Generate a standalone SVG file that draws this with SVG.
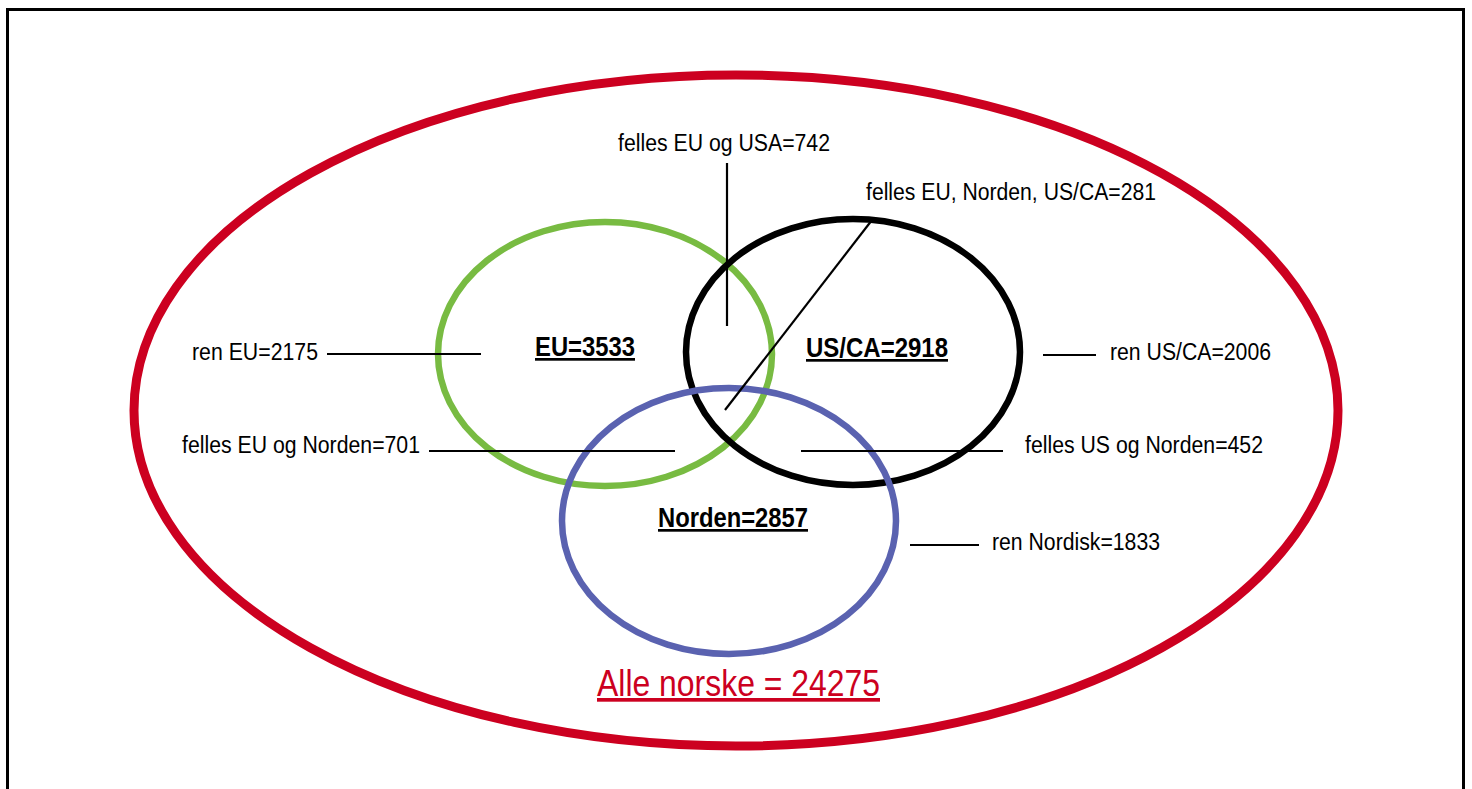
<svg xmlns="http://www.w3.org/2000/svg" width="1472" height="789" viewBox="0 0 1472 789">
<style>
.lbl{font-family:"Liberation Sans",Arial,sans-serif;font-size:23px;fill:#000}
.bold{font-family:"Liberation Sans",Arial,sans-serif;font-size:27px;font-weight:bold;fill:#000;text-decoration:underline}
.title{font-family:"Liberation Sans",Arial,sans-serif;font-size:37px;fill:#cc0020;text-decoration:underline}
.ring{fill:none}
.conn line{stroke:#000;stroke-width:2.2}
</style>
<rect x="7.5" y="9.5" width="1456" height="800" fill="#fff" stroke="#000" stroke-width="3"/>
<g id="alle">
<ellipse class="ring" cx="736" cy="410.5" rx="602" ry="335.5" stroke="#cc0020" stroke-width="9"/>
<text class="title" x="597" y="696" textLength="283" lengthAdjust="spacingAndGlyphs">Alle norske = 24275</text>
</g>
<g id="eu">
<ellipse class="ring" cx="605" cy="354" rx="167" ry="132" stroke="#78bb42" stroke-width="6.5"/>
<text class="bold" x="535" y="356" textLength="100" lengthAdjust="spacingAndGlyphs">EU=3533</text>
</g>
<g id="usca">
<ellipse class="ring" cx="853" cy="352" rx="167" ry="133" stroke="#000" stroke-width="6.5"/>
<text class="bold" x="806" y="357" textLength="142" lengthAdjust="spacingAndGlyphs">US/CA=2918</text>
</g>
<g id="norden">
<ellipse class="ring" cx="729" cy="521" rx="167" ry="133" stroke="#5a62b0" stroke-width="6.5"/>
<text class="bold" x="658" y="527" textLength="150" lengthAdjust="spacingAndGlyphs">Norden=2857</text>
</g>
<g class="conn" id="connectors">
<line x1="727" y1="163" x2="727" y2="326"/>
<line x1="872" y1="220" x2="725" y2="410"/>
<line x1="327" y1="354" x2="481" y2="354"/>
<line x1="1043" y1="355" x2="1096" y2="355"/>
<line x1="429" y1="451" x2="675" y2="451"/>
<line x1="801" y1="451" x2="1003" y2="451"/>
<line x1="910" y1="545" x2="979" y2="545"/>
</g>
<g id="labels">
<text class="lbl" x="618" y="151" textLength="212" lengthAdjust="spacingAndGlyphs">felles EU og USA=742</text>
<text class="lbl" x="866" y="200" textLength="290" lengthAdjust="spacingAndGlyphs">felles EU, Norden, US/CA=281</text>
<text class="lbl" x="192" y="360" textLength="126" lengthAdjust="spacingAndGlyphs">ren EU=2175</text>
<text class="lbl" x="1110" y="360" textLength="161" lengthAdjust="spacingAndGlyphs">ren US/CA=2006</text>
<text class="lbl" x="182" y="453" textLength="238" lengthAdjust="spacingAndGlyphs">felles EU og Norden=701</text>
<text class="lbl" x="1025" y="453" textLength="238" lengthAdjust="spacingAndGlyphs">felles US og Norden=452</text>
<text class="lbl" x="992" y="550" textLength="168" lengthAdjust="spacingAndGlyphs">ren Nordisk=1833</text>
</g>
</svg>
